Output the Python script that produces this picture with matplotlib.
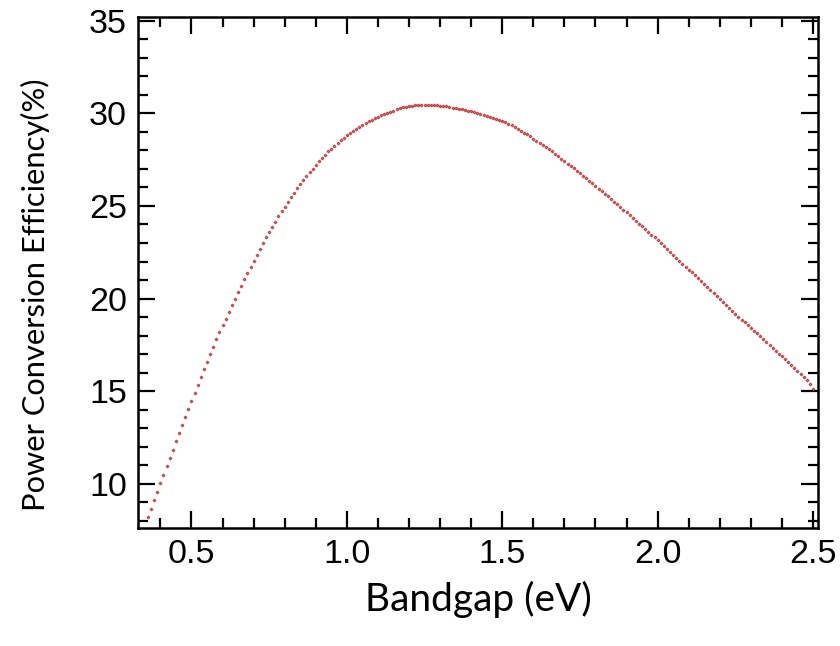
import matplotlib.pyplot as plt
from matplotlib.ticker import MultipleLocator

# Bandgap (eV), one point every 0.01 eV from 0.36 to 2.50
bandgap_start = 0.36
bandgap_step = 0.01

# Power conversion efficiency (%)
efficiency = [
    8.20, 8.66, 9.12, 9.57, 10.03, 10.49, 10.94, 11.39, 11.84, 12.29,
    12.74, 13.18, 13.62, 14.06, 14.49, 14.92, 15.35, 15.77, 16.19, 16.60,
    17.01, 17.41, 17.80, 18.18, 18.55, 18.92, 19.28, 19.64, 19.99, 20.34,
    20.69, 21.04, 21.38, 21.72, 22.05, 22.37, 22.69, 23.00, 23.30, 23.59,
    23.88, 24.16, 24.44, 24.71, 24.97, 25.23, 25.48, 25.72, 25.95, 26.18,
    26.40, 26.61, 26.82, 27.02, 27.22, 27.41, 27.59, 27.77, 27.94, 28.10,
    28.26, 28.41, 28.55, 28.69, 28.82, 28.94, 29.06, 29.17, 29.28, 29.38,
    29.48, 29.57, 29.66, 29.74, 29.82, 29.89, 29.96, 30.03, 30.09, 30.15,
    30.21, 30.27, 30.32, 30.36, 30.39, 30.42, 30.44, 30.45, 30.46, 30.46,
    30.46, 30.46, 30.45, 30.44, 30.42, 30.40, 30.37, 30.34, 30.31, 30.28,
    30.25, 30.22, 30.18, 30.14, 30.10, 30.06, 30.02, 29.97, 29.92, 29.87,
    29.82, 29.77, 29.71, 29.65, 29.58, 29.51, 29.43, 29.35, 29.27, 29.15,
    29.06, 28.96, 28.86, 28.75, 28.64, 28.53, 28.42, 28.30, 28.18, 28.06,
    27.94, 27.81, 27.68, 27.55, 27.42, 27.29, 27.16, 27.03, 26.90, 26.77,
    26.64, 26.50, 26.36, 26.22, 26.08, 25.94, 25.80, 25.66, 25.52, 25.38,
    25.24, 25.10, 24.95, 24.80, 24.65, 24.50, 24.35, 24.20, 24.05, 23.90,
    23.75, 23.60, 23.45, 23.30, 23.15, 23.00, 22.85, 22.69, 22.53, 22.37,
    22.21, 22.05, 21.89, 21.73, 21.57, 21.41, 21.25, 21.09, 20.93, 20.77,
    20.61, 20.45, 20.29, 20.13, 19.97, 19.81, 19.65, 19.49, 19.33, 19.17,
    19.02, 18.87, 18.72, 18.57, 18.42, 18.27, 18.12, 17.96, 17.80, 17.64,
    17.48, 17.33, 17.18, 17.03, 16.88, 16.73, 16.58, 16.43, 16.27, 16.11,
    15.95, 15.78, 15.59, 15.37, 15.12,
]
bandgap = [round(bandgap_start + i * bandgap_step, 2) for i in range(len(efficiency))]

x_ticks = [0.5, 1.0, 1.5, 2.0, 2.5]
y_ticks = [10, 15, 20, 25, 30, 35]


def main():
    fig = plt.figure(figsize=(8.4, 6.46), dpi=100)
    ax = fig.add_axes([0.1643, 0.1827, 0.8095, 0.791])

    ax.plot(bandgap, efficiency, linestyle='none', marker='D', markersize=1.6,
            markerfacecolor='#d47070', markeredgecolor='#c00000',
            markeredgewidth=0.4)

    ax.set_xlim(0.328, 2.516)
    ax.set_ylim(7.62, 35.2)
    ax.set_xticks(x_ticks)
    ax.set_xticklabels([f"{t:.1f}" for t in x_ticks])
    ax.set_yticks(y_ticks)
    ax.xaxis.set_minor_locator(MultipleLocator(0.1))
    ax.yaxis.set_minor_locator(MultipleLocator(1))

    for side in ax.spines.values():
        side.set_linewidth(1.8)
    ax.tick_params(which='both', direction='in', top=True, right=True, width=1.6)
    ax.tick_params(which='major', length=12, labelsize=24.5, pad=8)
    ax.tick_params(which='minor', length=7)
    for lab in ax.get_xticklabels() + ax.get_yticklabels():
        lab.set_family('Liberation Sans')

    ax.set_xlabel("Bandgap (eV)", fontsize=28, family='Lato', labelpad=8)
    ax.set_ylabel("Power Conversion Efficiency(%)", fontsize=22.2, family='Lato')
    ax.yaxis.set_label_coords(-0.13, 0.456)

    fig.savefig('out.png', dpi=100)


if __name__ == '__main__':
    main()
